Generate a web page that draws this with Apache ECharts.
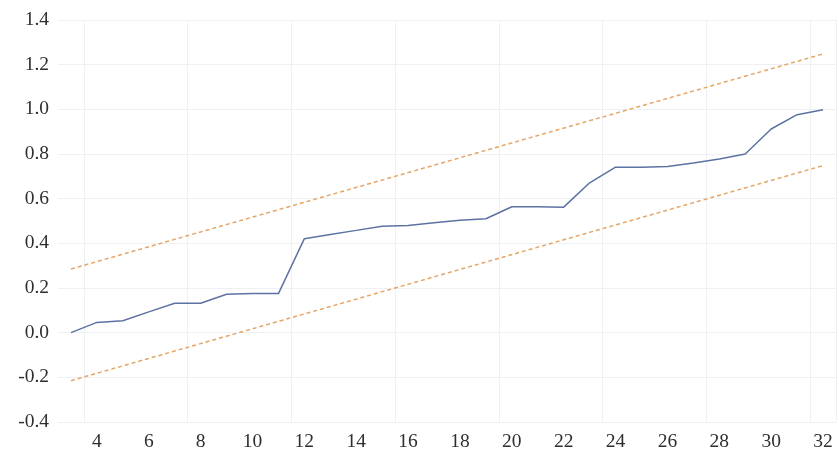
<!DOCTYPE html>
<html>
<head>
<meta charset="utf-8">
<script src="https://cdn.jsdelivr.net/npm/echarts@6/dist/echarts.min.js"></script>
<style>
  html, body { margin: 0; padding: 0; background: #fff; }
  #chart { width: 839px; height: 456px; }
</style>
</head>
<body>
<div id="chart"></div>
<script>
// x categories (sample index)
const categories = [3, 4, 5, 6, 7, 8, 9, 10, 11, 12, 13, 14, 15, 16, 17, 18, 19, 20,
  21, 22, 23, 24, 25, 26, 27, 28, 29, 30, 31, 32];

// cumulative series
const values = [0.0, 0.046, 0.053, 0.093, 0.132, 0.132, 0.172, 0.175, 0.175, 0.421,
  0.44, 0.458, 0.477, 0.48, 0.492, 0.503, 0.51, 0.564, 0.564, 0.562,
  0.671, 0.741, 0.741, 0.744, 0.76, 0.778, 0.80, 0.912, 0.976, 0.998];

// straight boundary lines: [value at first category, value at last category]
const upperBound = [0.285, 1.248];
const lowerBound = [-0.215, 0.748];

// y-axis range
const yMin = -0.4, yMax = 1.4, yStep = 0.2;

function endpoints(pair) {
  const last = categories.length - 1;
  return categories.map((c, i) => (i === 0 ? pair[0] : i === last ? pair[1] : null));
}

const font = '"Liberation Serif", "DejaVu Serif", serif';
const chart = echarts.init(document.getElementById('chart'), null, { renderer: 'canvas' });

chart.setOption({
  animation: false,
  backgroundColor: '#ffffff',
  grid: { left: 58, right: 3, top: 20, bottom: 34, containLabel: false },
  xAxis: {
    type: 'category',
    data: categories,
    boundaryGap: true,
    axisLine: { show: false },
    axisTick: { show: false },
    axisLabel: {
      interval: (i) => i % 2 === 1,
      color: '#2e2e2e',
      fontFamily: font,
      fontSize: 19.5,
      margin: 10
    },
    splitLine: {
      show: true,
      interval: (i) => i % 4 === 1,
      lineStyle: { color: '#eef0f4', width: 1 }
    }
  },
  yAxis: {
    type: 'value',
    min: yMin,
    max: yMax,
    interval: yStep,
    axisLine: { show: false },
    axisTick: { show: false },
    axisLabel: {
      color: '#2e2e2e',
      fontFamily: font,
      fontSize: 19.5,
      margin: 9,
      formatter: (v) => v.toFixed(1)
    },
    splitLine: { show: true, lineStyle: { color: '#eef0f4', width: 1 } }
  },
  series: [
    {
      type: 'line',
      data: values,
      symbol: 'none',
      lineStyle: { color: '#5d72a3', width: 1.5 }
    },
    {
      type: 'line',
      data: endpoints(upperBound),
      connectNulls: true,
      symbol: 'none',
      lineStyle: { color: '#e5a566', width: 1.5, type: [4, 3] }
    },
    {
      type: 'line',
      data: endpoints(lowerBound),
      connectNulls: true,
      symbol: 'none',
      lineStyle: { color: '#e5a566', width: 1.5, type: [4, 3] }
    }
  ]
});
</script>
</body>
</html>
